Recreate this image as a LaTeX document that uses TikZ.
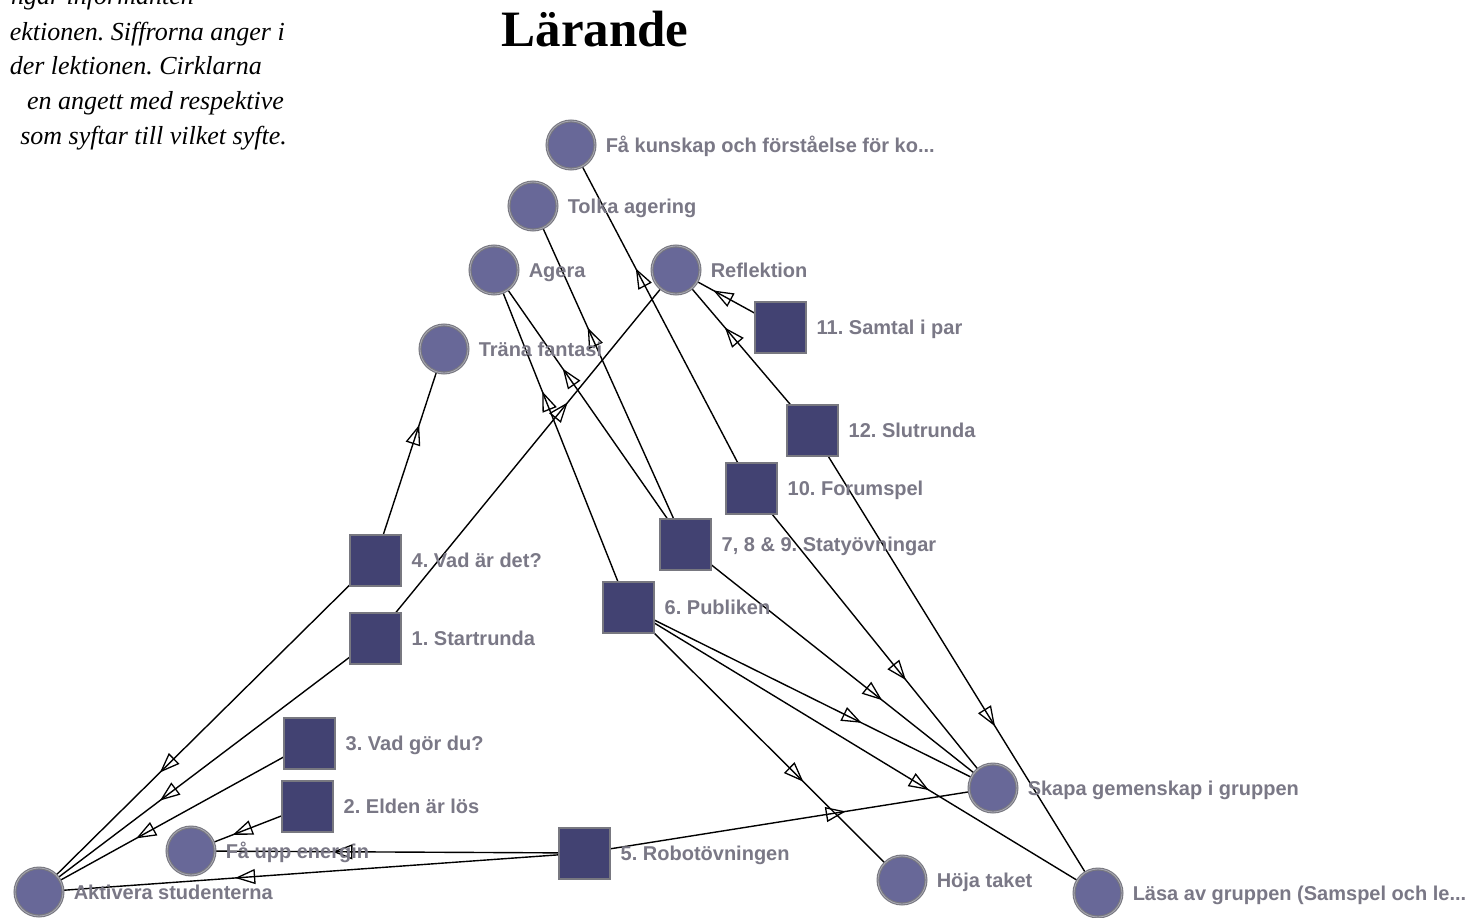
\documentclass[tikz,border=0pt]{standalone}
\usepackage{fontspec}
\setmainfont{Liberation Serif}
\newfontfamily\lblfont{Liberation Sans}
\usetikzlibrary{arrows.meta,decorations.markings}
\definecolor{circfill}{RGB}{104,104,152}
\definecolor{sqfill}{RGB}{66,66,114}
\definecolor{rim}{RGB}{120,120,128}
\definecolor{rimlight}{RGB}{170,170,182}
\definecolor{lbltext}{RGB}{122,120,134}
\pgfdeclarelayer{bg}
\pgfdeclarelayer{edges}
\pgfsetlayers{bg,edges,main}
\frenchspacing
\begin{document}
\begin{tikzpicture}[x=1pt,y=-1pt,
  goal/.style={circle,fill=circfill,draw=rim,line width=1.1pt,double=rimlight,double distance=0.8pt,minimum size=48pt,inner sep=0pt},
  act/.style={rectangle,fill=sqfill,draw=rim,line width=2pt,minimum size=51pt,inner sep=0pt},
  lbl/.style={font=\lblfont\bfseries\fontsize{20}{24}\selectfont,text=lbltext,inner sep=0pt,
    text height=14.3pt,text depth=0pt,label distance=10pt},
  itx/.style={font=\itshape\fontsize{26}{30}\selectfont,inner sep=0pt},
  link/.style={draw=black,line width=1.4pt,postaction={decorate},
    decoration={markings,mark=at position 0.64 with {\arrow[line width=1.3pt]{Triangle[open,length=20pt,width=15pt]}}}},
]
\useasboundingbox (0,0) rectangle (1483,918);
\begin{pgfonlayer}{bg}
\fill[white] (0,0) rectangle (1483,918);
\end{pgfonlayer}
\clip (0,0) rectangle (1483,918);

% caption fragment and title
\node[itx,anchor=base east] (t1) at (194,5) {ngar informanten};
\node[itx,anchor=base east] (t2) at (285,40) {ektionen. Siffrorna anger i};
\node[itx,anchor=base east] (t3) at (262,74) {der lektionen. Cirklarna};
\node[itx,anchor=base east] (t4) at (284,109) {en angett med respektive};
\node[itx,anchor=base east] (t5) at (287,144) {som syftar till vilket syfte.};
\node[font=\bfseries\fontsize{51}{60}\selectfont,anchor=base,inner sep=0pt] (title) at (595,46) {Lärande};

% goals (circles)
\node[goal,label={[lbl]east:Få kunskap och förståelse för ko...}] (fk) at (571,145) {};
\node[goal,label={[lbl]east:Tolka agering}] (ta) at (533,206) {};
\node[goal,label={[lbl]east:Agera}] (ag) at (494,270) {};
\node[goal,label={[lbl]east:Reflektion}] (re) at (676,270) {};
\node[goal,label={[lbl]east:Träna fantasi}] (tf) at (444,349) {};
\node[goal,label={[lbl]east:Skapa gemenskap i gruppen}] (sg) at (993,788) {};
\node[goal,label={[lbl]east:Höja taket}] (ht) at (902,880) {};
\node[goal,label={[lbl]east:Läsa av gruppen (Samspel och le...}] (lg) at (1098,893) {};
\node[goal,label={[lbl]east:Få upp energin}] (fe) at (191,851) {};
\node[goal,label={[lbl]east:Aktivera studenterna}] (akt) at (39,892) {};

% activities (squares)
\node[act,label={[lbl]east:11. Samtal i par}] (s11) at (780,327) {};
\node[act,label={[lbl]east:12. Slutrunda}] (s12) at (812,430) {};
\node[act,label={[lbl]east:10. Forumspel}] (s10) at (751,488) {};
\node[act,label={[lbl]east:7, 8 \& 9. Statyövningar}] (s7) at (685,544) {};
\node[act,label={[lbl]east:6. Publiken}] (s6) at (628,607) {};
\node[act,label={[lbl]east:4. Vad är det?}] (s4) at (375,560) {};
\node[act,label={[lbl]east:1. Startrunda}] (s1) at (375,638) {};
\node[act,label={[lbl]east:3. Vad gör du?}] (s3) at (309,743) {};
\node[act,label={[lbl]east:2. Elden är lös}] (s2) at (307,806) {};
\node[act,label={[lbl]east:5. Robotövningen}] (s5) at (584,853) {};

\begin{pgfonlayer}{edges}
\path[link] (s11.center) -- (re.center);
\path[link] (s12.center) -- (re.center);
\path[link] (s10.center) -- (fk.center);
\path[link] (s12.center) -- (lg.center);
\path[link] (s10.center) -- (sg.center);
\path[link] (s7.center) -- (ta.center);
\path[link] (s7.center) -- (ag.center);
\path[link] (s7.center) -- (sg.center);
\path[link] (s6.center) -- (ag.center);
\path[link] (s6.center) -- (sg.center);
\path[link] (s6.center) -- (lg.center);
\path[link] (s6.center) -- (ht.center);
\path[link] (s1.center) -- (re.center);
\path[link] (s4.center) -- (tf.center);
\path[link] (s4.center) -- (akt.center);
\path[link] (s1.center) -- (akt.center);
\path[link] (s3.center) -- (akt.center);
\path[link] (s2.center) -- (fe.center);
\path[link] (s5.center) -- (fe.center);
\path[link] (s5.center) -- (akt.center);
\path[link] (s5.center) -- (sg.center);
\end{pgfonlayer}
\end{tikzpicture}
\end{document}
